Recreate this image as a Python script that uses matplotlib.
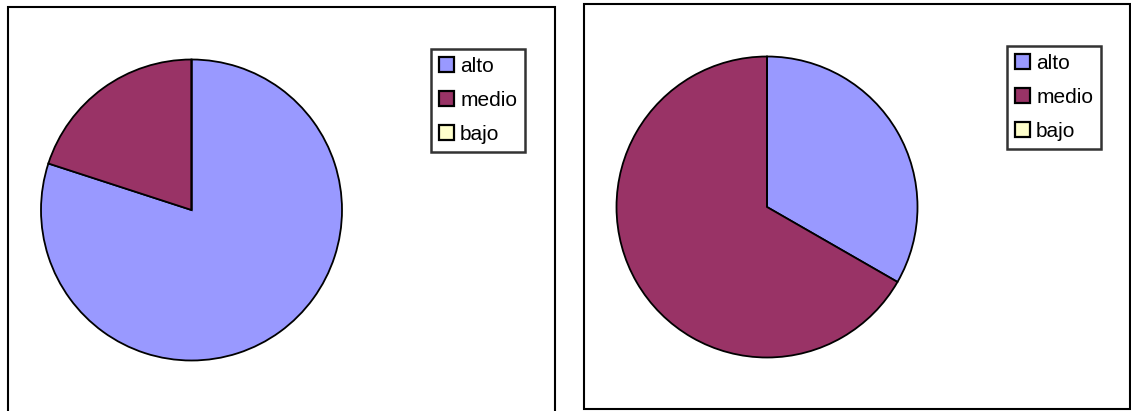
import matplotlib
matplotlib.use("Agg")
import matplotlib.pyplot as plt
from matplotlib.patches import Rectangle

plt.rcParams['font.family'] = ['Liberation Sans', 'DejaVu Sans']

# -------------------- data --------------------
labels = ["alto", "medio", "bajo"]
colors = ["#9999FF", "#993366", "#FFFFCC"]
left_values = [80, 20, 0]
right_values = [33.3, 66.7, 0]

W, H = 1131, 411
fig = plt.figure(figsize=(W / 100, H / 100), dpi=100)


def px_axes(cx, cy, r):
    # axes in pixel coords (top-left origin), square around pie center
    return fig.add_axes([(cx - r) / W, (H - cy - r) / H, 2 * r / W, 2 * r / H])


def frame(x0, y0, x1, y1):
    fig.patches.append(Rectangle((x0 / W, (H - y1) / H), (x1 - x0) / W, (y1 - y0) / H,
                                 transform=fig.transFigure, fill=False,
                                 edgecolor="black", linewidth=1.5))


def draw_pie(cx, cy, r, values, leg_x, leg_y):
    ax = px_axes(cx, cy, r)
    wedges, _ = ax.pie(values, colors=colors, startangle=90, counterclock=False,
                       radius=1.0, wedgeprops=dict(edgecolor="black", linewidth=1.3))
    ax.set_xlim(-1.01, 1.01)
    ax.set_ylim(-1.01, 1.01)
    ax.set_aspect("equal")
    ax.axis("off")
    handles = [Rectangle((0, 0), 1, 1, facecolor=c, edgecolor="black", linewidth=1.6) for c in colors]
    leg = fig.legend(handles, labels, loc="upper left",
                     bbox_to_anchor=(leg_x / W, 1 - leg_y / H), bbox_transform=fig.transFigure,
                     fontsize=15, frameon=True, fancybox=False, borderaxespad=0,
                     handlelength=0.72, handleheight=0.72, handletextpad=0.3,
                     labelspacing=0.72, borderpad=0.38)
    leg.get_frame().set_edgecolor("black")
    leg.get_frame().set_linewidth(1.8)


frame(8, 7, 555, 440)
frame(584, 4, 1130, 409)

draw_pie(191.5, 210, 152, left_values, 431, 49)
draw_pie(767, 207, 152, right_values, 1007, 46)

fig.savefig("out.png", dpi=100)
